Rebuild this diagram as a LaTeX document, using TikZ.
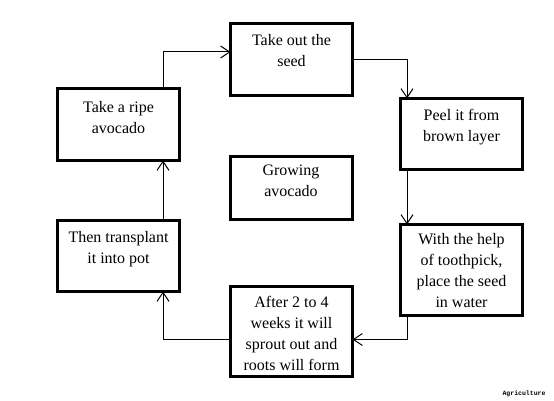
\documentclass[tikz,border=0pt]{standalone}
\usepackage{fontspec}
\setmainfont{Liberation Serif}
\newfontfamily\agrifont{Liberation Mono}
\usetikzlibrary{arrows.meta}
\tikzset{
  box/.style={draw, line width=3pt, minimum width=122pt, inner sep=0pt, outer sep=0pt, anchor=north west},
  lbl/.style={anchor=north, align=center, inner sep=0pt, font=\fontsize{16}{21}\selectfont},
  conn/.style={line width=1pt, -{Straight Barb[length=9pt,width=12pt,line width=1pt]}}
}
\begin{document}
\begin{tikzpicture}[x=1pt,y=-1pt]
\useasboundingbox (0,0) rectangle (554,401);
\node[box, minimum height=72pt] (ripe) at (57.5,88.5) {};
\node[box, minimum height=72pt] (seed) at (230.5,23.5) {};
\node[box, minimum height=71pt] (peel) at (400.5,98.5) {};
\node[box, minimum height=63pt] (grow) at (230,156.5) {};
\node[box, minimum height=71pt] (pot) at (57.5,220.5) {};
\node[box, minimum height=90pt] (after) at (230.5,286.5) {};
\node[box, minimum height=91pt] (water) at (400.5,224.5) {};

\node[lbl] (tripe) at ([yshift=-13pt]ripe.north) {Take a ripe\\avocado};
\node[lbl] (tseed) at ([yshift=-10.5pt]seed.north) {Take out the\\seed};
\node[lbl] (tpeel) at ([yshift=-10.5pt]peel.north) {Peel it from\\brown layer};
\node[lbl] (tgrow) at ([yshift=-8.5pt]grow.north) {Growing\\avocado};
\node[lbl] (tpot) at ([yshift=-10.5pt]pot.north) {Then transplant\\it into pot};
\node[lbl] (tafter) at ([yshift=-9.5pt]after.north) {After 2 to 4\\weeks it will\\sprout out and\\roots will form};
\node[lbl] (twater) at ([yshift=-8.5pt]water.north) {With the help\\of toothpick,\\place the seed\\in water};

\coordinate (lx) at (163,0);
\coordinate (rx) at (407,0);

\draw[conn] (ripe.north -| lx) |- ([yshift=7.5pt]seed.west);
\draw[conn] (seed.east) -| (peel.north -| rx);
\draw[conn] (peel.south -| rx) -- (water.north -| rx);
\draw[conn] (water.south -| rx) |- ([yshift=-8pt]after.east);
\draw[conn] ([yshift=-8pt]after.west) -| (pot.south -| lx);
\draw[conn] (pot.north -| lx) -- (ripe.south -| lx);

\node[font=\agrifont\bfseries\fontsize{6.5}{7}\selectfont, inner sep=0pt] (agri) at (524,394) {Agriculture};
\end{tikzpicture}
\end{document}
